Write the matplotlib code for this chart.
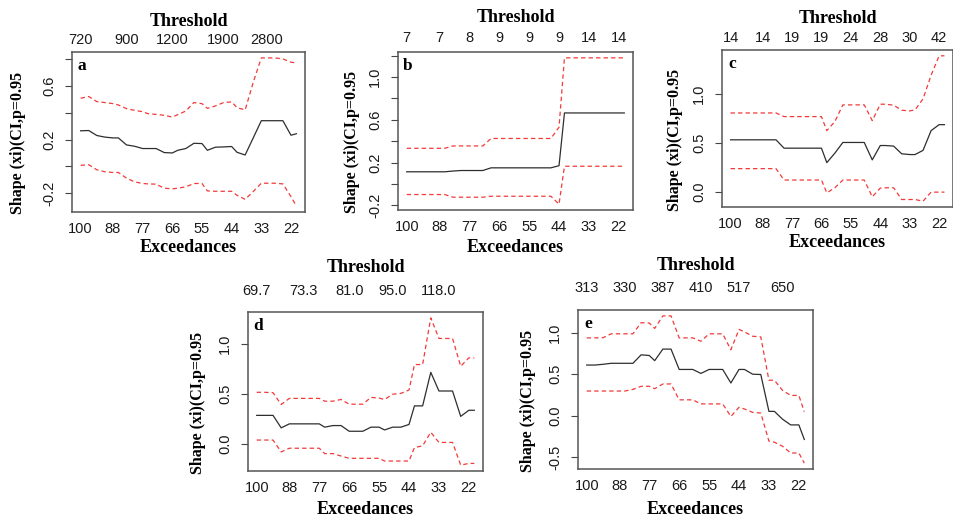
"""Shape parameter stability plots (xi with 95% CI) against number of exceedances"""

import matplotlib
matplotlib.use("Agg")
import matplotlib.pyplot as plt

plt.rcParams["font.family"] = "Liberation Sans"
plt.rcParams["font.size"] = 10.5
SERIF = "Liberation Serif"

# number of exceedances used for each of the 30 GPD fits
exceed = [100, 97, 94, 91, 88, 86, 83, 80, 77, 75, 72, 69, 66, 64, 61,
          58, 55, 53, 50, 47, 44, 42, 39, 36, 33, 31, 28, 25, 22, 20]
exc_ticks = [100, 88, 77, 66, 55, 44, 33, 22]

# panel a
xi_a = [0.265, 0.267, 0.230, 0.218, 0.212, 0.212, 0.160, 0.150, 0.133, 0.133,
        0.133, 0.103, 0.100, 0.120, 0.133, 0.172, 0.170, 0.120, 0.143, 0.145,
        0.148, 0.105, 0.085, 0.212, 0.340, 0.340, 0.340, 0.340, 0.232, 0.243]
hi_a = [0.507, 0.520, 0.482, 0.475, 0.467, 0.457, 0.430, 0.417, 0.407, 0.392,
        0.387, 0.380, 0.367, 0.385, 0.412, 0.475, 0.467, 0.432, 0.450, 0.475,
        0.480, 0.437, 0.420, 0.625, 0.807, 0.807, 0.807, 0.800, 0.775, 0.770]
lo_a = [0.008, 0.013, -0.025, -0.040, -0.045, -0.045, -0.087, -0.115, -0.127, -0.130,
        -0.132, -0.162, -0.167, -0.162, -0.152, -0.127, -0.127, -0.182, -0.185, -0.185,
        -0.185, -0.215, -0.245, -0.187, -0.125, -0.125, -0.125, -0.130, -0.225, -0.295]
thr_a_at = [100, 83, 66, 47, 31]
thr_a = ["720", "900", "1200", "1900", "2800"]

# panel b
xi_b = [0.113, 0.113, 0.113, 0.113, 0.113, 0.113, 0.120, 0.125, 0.125, 0.125,
        0.125, 0.150, 0.150, 0.150, 0.150, 0.150, 0.150, 0.150, 0.150, 0.150,
        0.170, 0.664, 0.664, 0.664, 0.664, 0.664, 0.664, 0.664, 0.664, 0.664]
hi_b = [0.333, 0.333, 0.333, 0.333, 0.333, 0.333, 0.355, 0.355, 0.355, 0.355,
        0.355, 0.425, 0.425, 0.425, 0.425, 0.425, 0.425, 0.425, 0.425, 0.425,
        0.530, 1.180, 1.180, 1.180, 1.180, 1.180, 1.180, 1.180, 1.180, 1.180]
lo_b = [-0.100, -0.100, -0.100, -0.100, -0.100, -0.100, -0.125, -0.125, -0.125, -0.125,
        -0.125, -0.116, -0.116, -0.116, -0.116, -0.116, -0.116, -0.116, -0.116, -0.116,
        -0.190, 0.165, 0.165, 0.165, 0.165, 0.165, 0.165, 0.165, 0.165, 0.165]
thr_b_at = [100, 88, 77, 66, 55, 44, 33, 22]
thr_b = ["7", "7", "8", "9", "9", "9", "14", "14"]

# panel c
xi_c = [0.532, 0.532, 0.532, 0.532, 0.532, 0.532, 0.532, 0.447, 0.447, 0.447,
        0.447, 0.447, 0.447, 0.300, 0.396, 0.505, 0.505, 0.505, 0.505, 0.328,
        0.474, 0.474, 0.468, 0.390, 0.382, 0.382, 0.425, 0.625, 0.686, 0.686]
hi_c = [0.805, 0.805, 0.805, 0.805, 0.805, 0.805, 0.805, 0.768, 0.768, 0.768,
        0.768, 0.768, 0.768, 0.625, 0.717, 0.887, 0.887, 0.887, 0.887, 0.727,
        0.894, 0.894, 0.884, 0.833, 0.826, 0.836, 0.949, 1.188, 1.386, 1.386]
lo_c = [0.239, 0.239, 0.239, 0.239, 0.239, 0.239, 0.239, 0.123, 0.123, 0.123,
        0.123, 0.123, 0.123, -0.007, 0.044, 0.123, 0.123, 0.123, 0.123, -0.048,
        0.041, 0.044, 0.044, -0.075, -0.075, -0.075, -0.092, 0.000, 0.000, 0.000]
thr_c_at = [100, 88, 77, 66, 55, 44, 33, 22]
thr_c = ["14", "14", "19", "19", "24", "28", "30", "42"]

# panel d
xi_d = [0.288, 0.288, 0.288, 0.163, 0.203, 0.203, 0.203, 0.203, 0.203, 0.170,
        0.186, 0.186, 0.129, 0.129, 0.129, 0.170, 0.170, 0.142, 0.170, 0.170,
        0.197, 0.383, 0.383, 0.719, 0.532, 0.532, 0.532, 0.278, 0.339, 0.339]
hi_d = [0.519, 0.519, 0.515, 0.397, 0.458, 0.458, 0.458, 0.458, 0.458, 0.430,
        0.430, 0.447, 0.400, 0.400, 0.400, 0.468, 0.461, 0.447, 0.500, 0.508,
        0.542, 0.797, 0.797, 1.264, 1.058, 1.058, 1.058, 0.780, 0.864, 0.864]
lo_d = [0.041, 0.041, 0.041, -0.078, -0.041, -0.041, -0.041, -0.041, -0.041, -0.095,
        -0.095, -0.119, -0.142, -0.142, -0.142, -0.142, -0.142, -0.169, -0.169, -0.169,
        -0.169, -0.034, -0.017, 0.119, 0.017, 0.017, 0.017, -0.210, -0.193, -0.193]
thr_d_at = [100, 83, 66, 50, 33]
thr_d = ["69.7", "73.3", "81.0", "95.0", "118.0"]

# panel e
xi_e = [0.611, 0.611, 0.620, 0.632, 0.632, 0.632, 0.632, 0.734, 0.726, 0.664,
        0.803, 0.803, 0.558, 0.558, 0.558, 0.510, 0.558, 0.558, 0.558, 0.395,
        0.558, 0.558, 0.501, 0.497, 0.053, 0.053, -0.041, -0.110, -0.110, -0.285]
hi_e = [0.938, 0.938, 0.940, 0.987, 0.987, 0.987, 0.987, 1.121, 1.117, 1.052,
        1.203, 1.203, 0.938, 0.938, 0.938, 0.897, 0.987, 0.987, 0.987, 0.795,
        1.040, 1.011, 0.958, 0.950, 0.428, 0.428, 0.306, 0.245, 0.245, 0.049]
lo_e = [0.298, 0.298, 0.298, 0.298, 0.298, 0.298, 0.318, 0.355, 0.355, 0.326,
        0.383, 0.383, 0.192, 0.192, 0.192, 0.143, 0.143, 0.143, 0.143, -0.008,
        0.102, 0.082, 0.041, 0.033, -0.306, -0.318, -0.367, -0.448, -0.448, -0.570]
thr_e_at = [100, 86, 72, 58, 44, 28]
thr_e = ["313", "330", "387", "410", "517", "650"]


def px(v):
    # pixels -> points at 100 dpi
    return v * 0.72


def shape_panel(ax, letter, xi, lo, hi, thr_at, thr_lab, yticks, ylabels,
                top_pad, thr_off, exc_off, ylab_off):
    ax.plot(exceed, xi, color="#2e2e2e", lw=0.9)
    ax.plot(exceed, hi, color="#f23a3a", lw=0.9, ls=(0, (3.5, 2.5)))
    ax.plot(exceed, lo, color="#f23a3a", lw=0.9, ls=(0, (3.5, 2.5)))
    ax.margins(0.04)
    ax.invert_xaxis()

    ax.set_xticks(exc_ticks, [str(v) for v in exc_ticks])
    ax.tick_params(axis="x", length=0, pad=px(10), labelcolor="#1a1a1a")
    ax.set_yticks(yticks, ylabels)
    ax.tick_params(axis="y", length=px(7), width=0.8, color="#444444", pad=px(9),
                   labelcolor="#1a1a1a", labelrotation=90)
    for t in ax.get_yticklabels():
        t.set_va("center")
    for s in ax.spines.values():
        s.set_color("#555555")
        s.set_linewidth(1.1)

    top = ax.secondary_xaxis("top")
    top.set_xticks(thr_at, thr_lab)
    top.tick_params(length=0, pad=top_pad, labelcolor="#1a1a1a")
    for s in top.spines.values():
        s.set_visible(False)

    bold = dict(family=SERIF, weight="bold", ha="center", va="center",
                xycoords="axes fraction", textcoords="offset points")
    ax.annotate("Threshold", xy=(0.5, 1), xytext=(0, px(thr_off)), fontsize=13, **bold)
    ax.annotate("Exceedances", xy=(0.5, 0), xytext=(0, -px(exc_off)), fontsize=13, **bold)
    ax.annotate("Shape (xi)(CI,p=0.95", xy=(0, 0.43), xytext=(-px(ylab_off), 0),
                rotation=90, fontsize=11.5, **bold)
    ax.annotate(letter, xy=(0, 1), xytext=(px(10), -px(14)), fontsize=12.5, **bold)


fig = plt.figure(figsize=(9.54, 5.17), dpi=100)
W, H = 954, 517


def add_axes(x0, y0, x1, y1):
    return fig.add_axes([x0 / W, 1 - y1 / H, (x1 - x0) / W, (y1 - y0) / H])


ax_a = add_axes(72, 52, 305, 212)
ax_b = add_axes(398, 52, 633, 210)
ax_c = add_axes(722, 50, 953, 207)
ax_d = add_axes(248, 312, 483, 471)
ax_e = add_axes(578, 310, 813, 469)

shape_panel(ax_a, "a", xi_a, lo_a, hi_a, thr_a_at, thr_a,
            [-0.2, 0.0, 0.2, 0.4, 0.6, 0.8], ["-0.2", "", "0.2", "", "0.6", ""],
            px(5), 31, 36, 54)
shape_panel(ax_b, "b", xi_b, lo_b, hi_b, thr_b_at, thr_b,
            [-0.2, 0.0, 0.2, 0.4, 0.6, 0.8, 1.0, 1.2],
            ["-0.2", "", "0.2", "", "0.6", "", "1.0", ""],
            px(7), 34, 37, 46)
shape_panel(ax_c, "c", xi_c, lo_c, hi_c, thr_c_at, thr_c,
            [0.0, 0.5, 1.0], ["0.0", "0.5", "1.0"],
            px(5), 31, 36, 47)
shape_panel(ax_d, "d", xi_d, lo_d, hi_d, thr_d_at, thr_d,
            [0.0, 0.5, 1.0], ["0.0", "0.5", "1.0"],
            px(14), 44, 39, 50)
shape_panel(ax_e, "e", xi_e, lo_e, hi_e, thr_e_at, thr_e,
            [-0.5, 0.0, 0.5, 1.0], ["-0.5", "0.0", "0.5", "1.0"],
            px(15), 44, 40, 50)

fig.savefig("out.png", dpi=100)
